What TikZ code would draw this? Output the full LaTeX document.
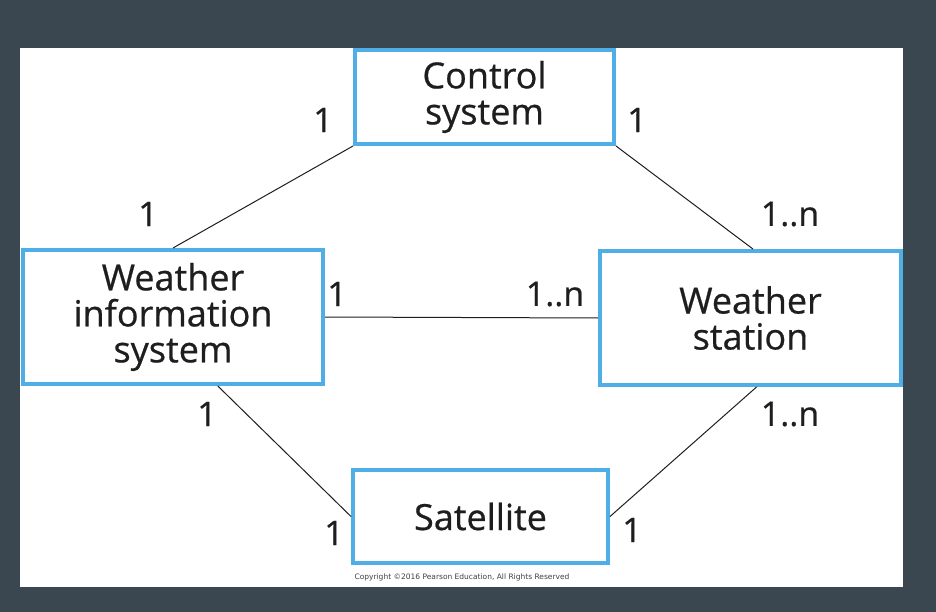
\documentclass[tikz,border=0pt]{standalone}
\usepackage{fontspec}
\setmainfont{Open Sans}[BoldFont={Open Sans}, BoldFeatures={FakeBold=0.6}]
\newfontfamily\copyfont{DejaVu Sans}
\usetikzlibrary{positioning}

\definecolor{slate}{RGB}{58,71,80}
\definecolor{boxblue}{RGB}{79,174,230}
\definecolor{ink}{RGB}{30,30,30}

\tikzset{
    sysbox/.style={draw=boxblue, line width=4pt, fill=white, align=center,
        inner sep=0pt, text=ink, font=\bfseries\fontsize{36}{36}\selectfont},
    mult/.style={text=ink, inner sep=0pt, font=\bfseries\fontsize{34}{36}\selectfont},
    assoc/.style={draw=ink, line width=1pt}
}

\begin{document}
\begin{tikzpicture}[x=1pt, y=-1pt]

% Background and panel
\fill[slate] (0,0) rectangle (936,612);
\fill[white] (20,48) rectangle (903,587);
\useasboundingbox (0,0) rectangle (936,612);

% Systems
\node[sysbox, minimum width=259pt, minimum height=94pt] (control) at (484.5,97) {Control\\system};
\node[sysbox, minimum width=300pt, minimum height=134pt] (wis) at (173,317) {Weather\\information\\system};
\node[sysbox, minimum width=301pt, minimum height=134pt] (station) at (750.5,318) {Weather\\station};
\node[sysbox, minimum width=255pt, minimum height=93pt] (satellite) at (480.5,516.5) {Satellite};

% Associations
\draw[assoc] (control.south west) -- (wis.north);
\draw[assoc] (control.south east) -- (station.88);
\draw[assoc] (wis.east) -- (station.west);
\draw[assoc] (wis.-57) -- (satellite.west);
\draw[assoc] (station.-85) -- (satellite.east);

% Multiplicities
\node[mult] (m1) at (323,120) {1};
\node[mult] (m2) at (637,120) {1};
\node[mult] (m3) at (148,214) {1};
\node[mult] (m4) at (790,214) {1..n};
\node[mult] (m5) at (337,294) {1};
\node[mult] (m6) at (555,294) {1..n};
\node[mult] (m7) at (207,414) {1};
\node[mult] (m8) at (790,414) {1..n};
\node[mult] (m9) at (334,533) {1};
\node[mult] (m10) at (632,530) {1};

% Copyright
\node[text=black!75, inner sep=0pt, font=\copyfont\fontsize{7.5}{8}\selectfont] (copy) at (462,577) {Copyright ©2016 Pearson Education, All Rights Reserved};

\end{tikzpicture}
\end{document}
